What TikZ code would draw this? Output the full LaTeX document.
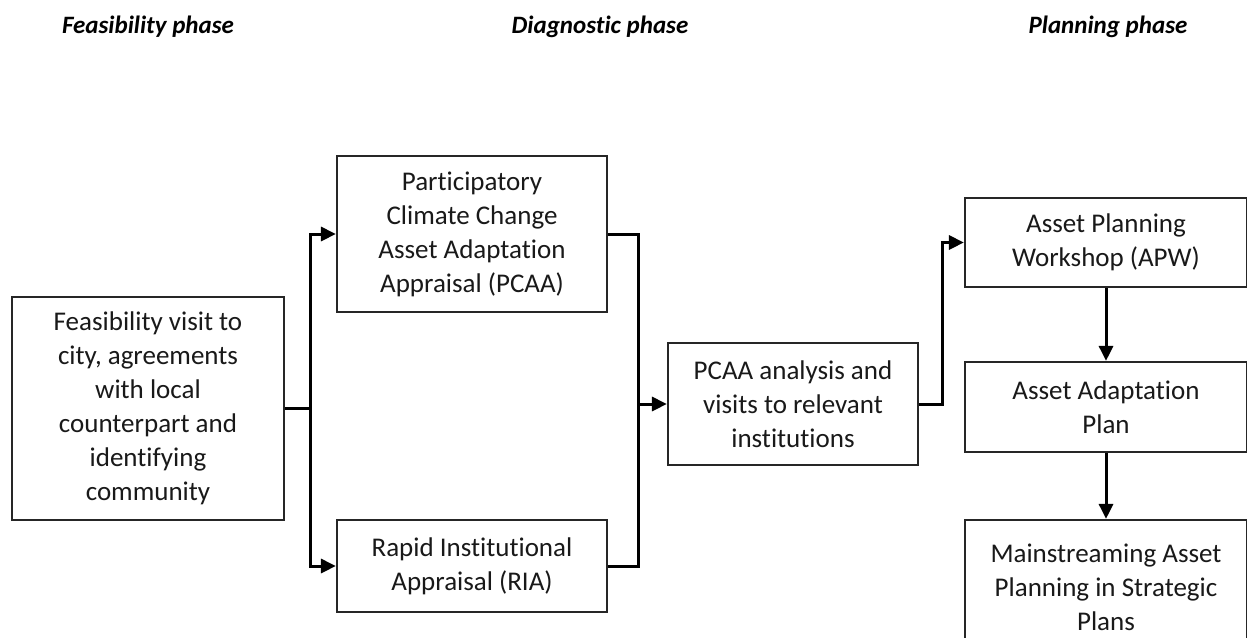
\documentclass[tikz,border=0pt]{standalone}
\usepackage{fontspec}
\setmainfont[RawFeature={-liga}]{Carlito}
\usetikzlibrary{arrows.meta}
\tikzset{
  box/.style={draw=black!85, line width=2.2pt, align=center, inner sep=0pt,
    font=\fontsize{27}{34}\selectfont, text=black!90},
  phase/.style={font=\fontsize{25}{30}\selectfont\bfseries\itshape, text=black, inner sep=0pt},
  conn/.style={line width=3pt, draw=black},
  arr/.style={conn, -{Triangle[length=15pt,width=14pt]}}
}
\begin{document}
\begin{tikzpicture}[x=1pt,y=-1pt]
\useasboundingbox (0,0) rectangle (1247,637);
\fill[white] (0,0) rectangle (1247,637);
% phase headers
\node[phase] (h1) at (148,27) {Feasibility phase};
\node[phase] (h2) at (600,27) {Diagnostic phase};
\node[phase] (h3) at (1108,27) {Planning phase};
% boxes
\node[box, minimum width=272pt, minimum height=223pt] (feas) at (148,408.5)
  {Feasibility visit to\\city, agreements\\with local\\counterpart and\\identifying\\community};
\node[box, minimum width=270pt, minimum height=156pt] (pcaa) at (472,234)
  {Participatory\\Climate Change\\Asset Adaptation\\Appraisal (PCAA)};
\node[box, minimum width=270pt, minimum height=92pt] (ria) at (472,566)
  {Rapid Institutional\\Appraisal (RIA)};
\node[box, minimum width=250pt, minimum height=122pt] (ana) at (793,404)
  {PCAA analysis and\\visits to relevant\\institutions};
\node[box, minimum width=282pt, minimum height=89pt] (apw) at (1106,242.5)
  {Asset Planning\\Workshop (APW)};
\node[box, minimum width=282pt, minimum height=90pt] (aap) at (1106,407)
  {Asset Adaptation\\Plan};
\node[box, minimum width=282pt, minimum height=134pt] (main) at (1106,587)
  {Mainstreaming Asset\\Planning in Strategic\\Plans};
% junctions
\coordinate (b1) at (310,408.5);
\coordinate (b2) at (638,404);
\coordinate (b3) at (942,404);
% connectors
\draw[conn] (feas.east) -- (b1);
\draw[arr] (b1) |- (pcaa.west);
\draw[arr] (b1) |- (ria.west);
\draw[conn] (pcaa.east) -| (b2);
\draw[conn] (ria.east) -| (b2);
\draw[arr] (b2) -- (ana.west);
\draw[arr] (ana.east) -- (b3) |- (apw.west);
\draw[arr] (apw.south) -- (aap.north);
\draw[arr] (aap.south) -- (main.north);
\end{tikzpicture}
\end{document}
